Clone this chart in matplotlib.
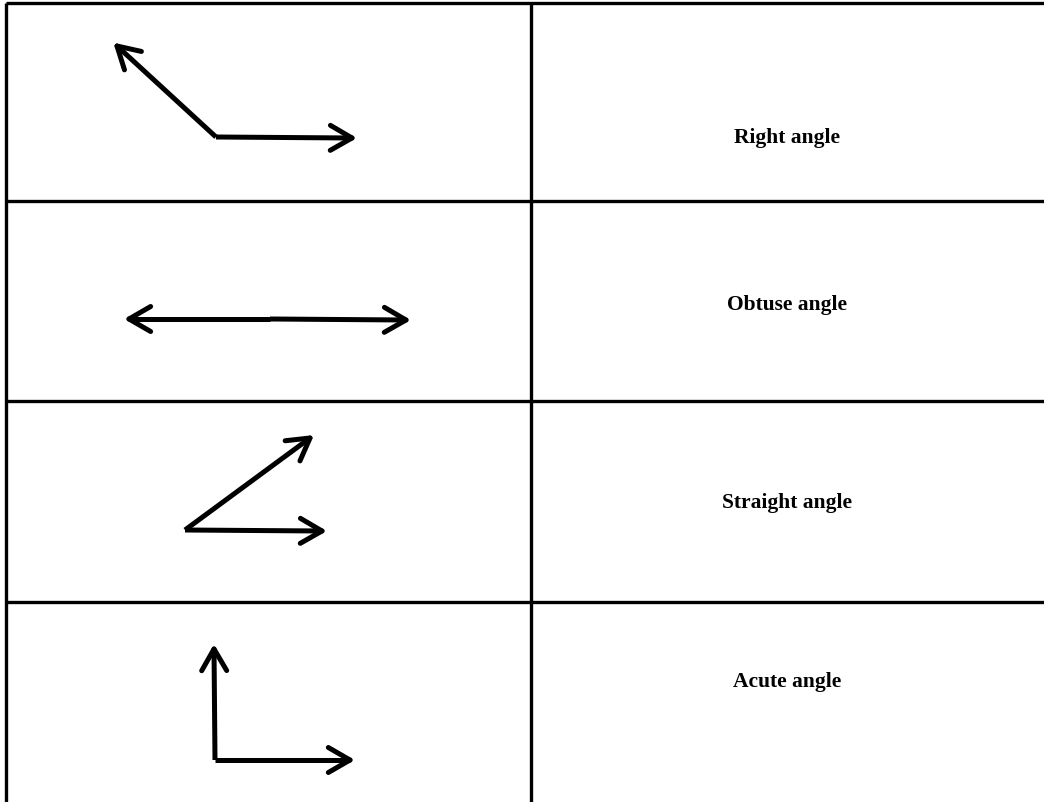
import numpy as np
import matplotlib.pyplot as plt

# table grid (pixel positions in the 1044x803 picture)
row_lines = [3.5, 202, 402, 603]
col_divider = 530.5
labels = ["Right angle", "Obtuse angle", "Straight angle", "Acute angle"]
label_y = [138, 305, 503, 682]

# each angle: vertex and the tips of its two rays
vertex_x = [216, 270, 185, 215]
vertex_y = [138, 320, 531, 761]
ray1_x = [117, 129, 310, 214]
ray1_y = [47, 320, 439, 650]
ray2_x = [352, 406, 322, 350]
ray2_y = [139, 321, 532, 761]

W, H = 1044, 803
fig = plt.figure(figsize=(W / 100, H / 100), dpi=100)
ax = fig.add_axes([0, 0, 1, 1])
ax.set_xlim(0, W)
ax.set_ylim(H, 0)
ax.axis("off")

lw_grid = 2.4
lw_arrow = 3.6

# grid: top + row separators run to the right edge, verticals to the bottom
for y in row_lines:
    ax.plot([5.5, W], [y, y], color="black", lw=lw_grid, solid_capstyle="butt")
ax.plot([5.5, 5.5], [row_lines[0], H], color="black", lw=lw_grid, solid_capstyle="butt")
ax.plot([col_divider, col_divider], [row_lines[0], H], color="black", lw=lw_grid,
        solid_capstyle="butt")


def ray(x0, y0, x1, y1, head=25, spread=np.radians(30)):
    ax.plot([x0, x1], [y0, y1], color="black", lw=lw_arrow, solid_capstyle="butt")
    ang = np.arctan2(y0 - y1, x0 - x1)
    for s in (-spread, spread):
        bx = x1 + head * np.cos(ang + s)
        by = y1 + head * np.sin(ang + s)
        ax.plot([bx, x1], [by, y1], color="black", lw=lw_arrow,
                solid_capstyle="round")


for i in range(len(labels)):
    ray(vertex_x[i], vertex_y[i], ray1_x[i], ray1_y[i])
    ray(vertex_x[i], vertex_y[i], ray2_x[i], ray2_y[i])
    ax.text((col_divider + W) / 2, label_y[i], labels[i], ha="center", va="center",
            fontsize=15.5, fontweight="bold", family="Liberation Serif")

fig.savefig("out.png", dpi=100)
